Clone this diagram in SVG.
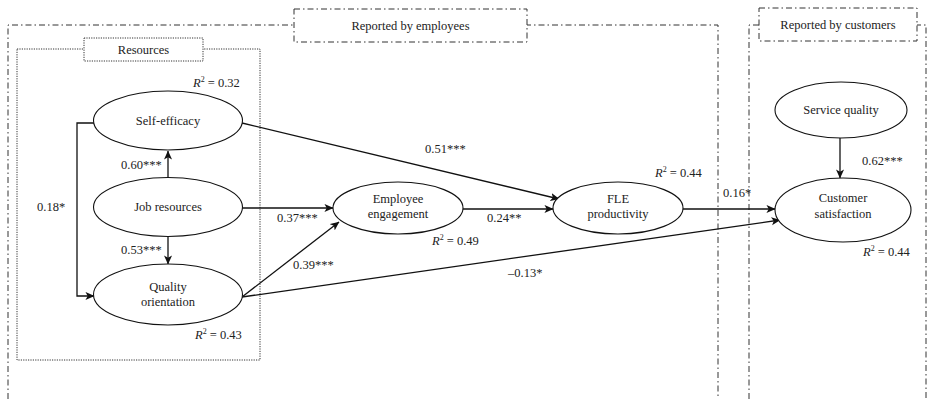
<svg xmlns="http://www.w3.org/2000/svg" width="927" height="399" viewBox="0 0 927 399">
<style>
text{font-family:"Liberation Serif","Times New Roman",serif;font-size:12.5px;fill:#222}
.c{text-anchor:middle}
.node ellipse{fill:#fff;stroke:#111;stroke-width:1.1}
.dd{fill:none;stroke:#333;stroke-width:1;stroke-dasharray:6 3 1.5 3}
.dt{fill:none;stroke:#333;stroke-width:1;stroke-dasharray:1.2 1.2}
.dtl{fill:#fff;stroke:#333;stroke-width:1;stroke-dasharray:1.2 1.2}
.ddl{fill:#fff;stroke:#333;stroke-width:1;stroke-dasharray:6 3 1.5 3}
#edges path{fill:none;stroke:#111;stroke-width:1.3;marker-end:url(#ah)}
</style>
<defs>
<marker id="ah" viewBox="0 0 10 10" refX="9.5" refY="5" markerWidth="9" markerHeight="9" markerUnits="userSpaceOnUse" orient="auto">
<path d="M0,0.5 L10,5 L0,9.5 L2.5,5 Z" fill="#111"/>
</marker>
</defs>
<rect width="927" height="399" fill="#fff"/>
<g id="groups">
<path class="dd" d="M8,399 V25 H718 V399"/>
<path class="dd" d="M749,399 V25 H926 V399"/>
<rect class="ddl" x="294" y="9" width="233" height="33"/>
<text class="c" x="410.5" y="30">Reported by employees</text>
<rect class="ddl" x="759" y="8" width="158" height="33"/>
<text class="c" x="838" y="29">Reported by customers</text>
<rect class="dt" x="17" y="49" width="243" height="311"/>
<rect class="dtl" x="84" y="38" width="119" height="23"/>
<text class="c" x="143.5" y="54">Resources</text>
</g>
<g id="edges">
<path d="M168,177 V151"/>
<path d="M168,237 V264"/>
<path d="M94,123 H77 V296 H94"/>
<path d="M242,208 H333"/>
<path d="M242,297 L339,222"/>
<path d="M242,123 L559,199"/>
<path d="M463,209 H553"/>
<path d="M683,209 H775"/>
<path d="M242,297 L780,220"/>
<path d="M840,138 V178"/>
</g>
<g id="self-efficacy" class="node">
<ellipse cx="168" cy="120.5" rx="74.5" ry="29.5"/>
<text class="c" x="168" y="124.5">Self-efficacy</text>
</g>
<g id="job-resources" class="node">
<ellipse cx="168" cy="207" rx="74.5" ry="29.5"/>
<text class="c" x="168" y="211">Job resources</text>
</g>
<g id="quality-orientation" class="node">
<ellipse cx="168" cy="294.5" rx="74.5" ry="30.5"/>
<text class="c" x="168" y="291">Quality</text>
<text class="c" x="168" y="306">orientation</text>
</g>
<g id="employee-engagement" class="node">
<ellipse cx="398" cy="208" rx="65" ry="26"/>
<text class="c" x="398" y="203">Employee</text>
<text class="c" x="398" y="217.5">engagement</text>
</g>
<g id="fle-productivity" class="node">
<ellipse cx="618" cy="208" rx="65" ry="26"/>
<text class="c" x="618" y="203">FLE</text>
<text class="c" x="618" y="217.5">productivity</text>
</g>
<g id="service-quality" class="node">
<ellipse cx="841" cy="110" rx="66" ry="28"/>
<text class="c" x="841" y="113.5">Service quality</text>
</g>
<g id="customer-satisfaction" class="node">
<ellipse cx="843" cy="210" rx="68" ry="32"/>
<text class="c" x="843" y="202">Customer</text>
<text class="c" x="843" y="217.5">satisfaction</text>
</g>
<g id="labels">
<text x="193" y="87"><tspan font-style="italic">R</tspan><tspan dy="-5" font-size="8">2</tspan><tspan dy="5"> = 0.32</tspan></text>
<text x="121" y="169">0.60***</text>
<text x="37" y="211">0.18*</text>
<text x="121" y="254">0.53***</text>
<text x="195" y="339"><tspan font-style="italic">R</tspan><tspan dy="-5" font-size="8">2</tspan><tspan dy="5"> = 0.43</tspan></text>
<text x="277" y="222">0.37***</text>
<text x="293" y="269">0.39***</text>
<text x="425" y="153">0.51***</text>
<text x="432" y="245"><tspan font-style="italic">R</tspan><tspan dy="-5" font-size="8">2</tspan><tspan dy="5"> = 0.49</tspan></text>
<text x="487" y="222">0.24**</text>
<text x="508" y="277">–0.13*</text>
<text x="655" y="177"><tspan font-style="italic">R</tspan><tspan dy="-5" font-size="8">2</tspan><tspan dy="5"> = 0.44</tspan></text>
<text x="723" y="197">0.16*</text>
<text x="862" y="165">0.62***</text>
<text x="863" y="256"><tspan font-style="italic">R</tspan><tspan dy="-5" font-size="8">2</tspan><tspan dy="5"> = 0.44</tspan></text>
</g>
</svg>
